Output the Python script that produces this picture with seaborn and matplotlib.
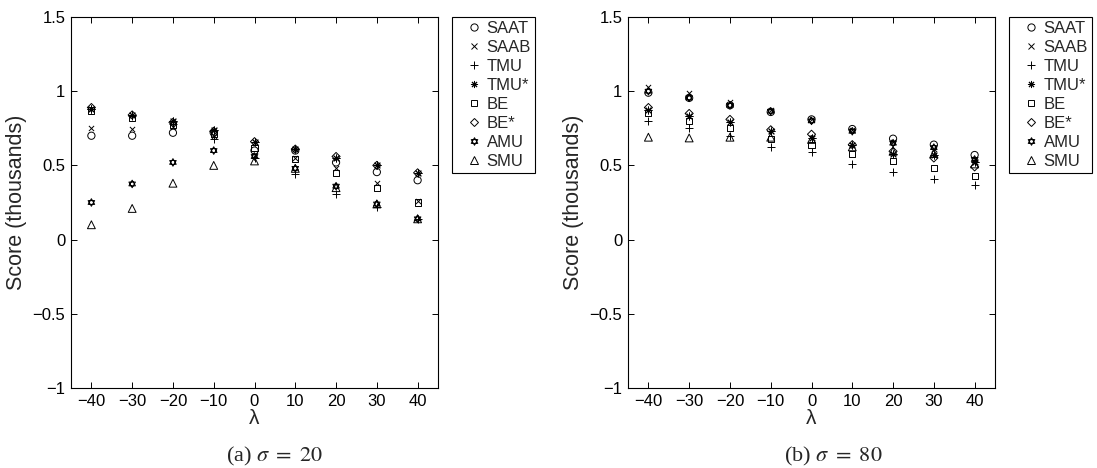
import numpy as np
import pandas as pd
import matplotlib
matplotlib.use("Agg")
import matplotlib.pyplot as plt
import seaborn as sns
from matplotlib.path import Path
from matplotlib.lines import Line2D

# ---------------- data ----------------
lambdas = [-40, -30, -20, -10, 0, 10, 20, 30, 40]
methods = ["SAAT", "SAAB", "TMU", "TMU*", "BE", "BE*", "AMU", "SMU"]

# panel (a) sigma = 20
saat_20 = [0.70, 0.70, 0.72, 0.72, 0.60, 0.60, 0.52, 0.455, 0.40]
saab_20 = [0.75, 0.745, 0.76, 0.70, 0.57, 0.55, 0.48, 0.38, 0.26]
tmu_20 = [0.88, 0.83, 0.78, 0.68, 0.55, 0.44, 0.31, 0.22, 0.14]
tmus_20 = [0.88, 0.84, 0.80, 0.74, 0.66, 0.61, 0.55, 0.50, 0.45]
be_20 = [0.87, 0.82, 0.77, 0.71, 0.62, 0.545, 0.45, 0.35, 0.25]
bes_20 = [0.89, 0.84, 0.79, 0.73, 0.66, 0.61, 0.56, 0.50, 0.45]
amu_20 = [0.25, 0.375, 0.52, 0.60, 0.56, 0.48, 0.36, 0.24, 0.14]
smu_20 = [0.10, 0.21, 0.38, 0.50, 0.53, 0.48, 0.35, 0.24, 0.14]

# panel (b) sigma = 80
saat_80 = [0.99, 0.955, 0.905, 0.86, 0.81, 0.745, 0.68, 0.64, 0.57]
saab_80 = [1.03, 0.99, 0.93, 0.87, 0.81, 0.74, 0.66, 0.61, 0.54]
tmu_80 = [0.80, 0.75, 0.70, 0.625, 0.59, 0.51, 0.455, 0.41, 0.37]
tmus_80 = [0.87, 0.83, 0.79, 0.73, 0.685, 0.64, 0.58, 0.57, 0.52]
be_80 = [0.85, 0.80, 0.755, 0.675, 0.64, 0.58, 0.53, 0.48, 0.43]
bes_80 = [0.89, 0.85, 0.81, 0.74, 0.71, 0.64, 0.595, 0.55, 0.49]
amu_80 = [1.00, 0.955, 0.905, 0.865, 0.80, 0.73, 0.65, 0.62, 0.54]
smu_80 = [0.69, 0.685, 0.69, 0.69, 0.675, 0.625, 0.595, 0.58, 0.51]

xticks = [-40, -30, -20, -10, 0, 10, 20, 30, 40]
xtick_labels = ["\u221240", "\u221230", "\u221220", "\u221210", "0", "10", "20", "30", "40"]
yticks = [-1, -0.5, 0, 0.5, 1, 1.5]
ytick_labels = ["\u22121", "\u22120.5", "0", "0.5", "1", "1.5"]
captions = ["(a) $\\sigma\\ =\\ 20$", "(b) $\\sigma\\ =\\ 80$"]

series = {
    "a": [saat_20, saab_20, tmu_20, tmus_20, be_20, bes_20, amu_20, smu_20],
    "b": [saat_80, saab_80, tmu_80, tmus_80, be_80, bes_80, amu_80, smu_80],
}
rows = []
for panel, vals in series.items():
    for m, v in zip(methods, vals):
        for lam, s in zip(lambdas, v):
            rows.append({"panel": panel, "method": m, "lambda": lam, "score": s})
df = pd.DataFrame(rows)

# ---------------- style ----------------
sns.set_style("ticks")
plt.rcParams["font.family"] = ["Liberation Sans", "DejaVu Sans"]
plt.rcParams["mathtext.fontset"] = "stix"
plt.rcParams["xtick.direction"] = "in"
plt.rcParams["ytick.direction"] = "in"

# hexagram marker (two overlapping triangles)
ang_up = np.deg2rad([90, 210, 330])
ang_dn = np.deg2rad([270, 30, 150])
verts = ([(np.cos(a), np.sin(a)) for a in ang_up] + [(0, 0)] +
         [(np.cos(a), np.sin(a)) for a in ang_dn] + [(0, 0)])
codes = [Path.MOVETO, Path.LINETO, Path.LINETO, Path.CLOSEPOLY] * 2
hexagram = Path(verts, codes)

marker_spec = {
    "SAAT": dict(marker="o", s=27, open=True),
    "SAAB": dict(marker="x", s=14, open=False),
    "TMU": dict(marker="+", s=30, open=False),
    "TMU*": dict(marker=(8, 2, 0), s=26, open=False),
    "BE": dict(marker="s", s=19, open=True),
    "BE*": dict(marker="D", s=17, open=True),
    "AMU": dict(marker=hexagram, s=30, open=True),
    "SMU": dict(marker="^", s=32, open=True),
}

fig = plt.figure(figsize=(10.97, 4.68), dpi=100)
axes = [fig.add_axes([71 / 1097, 1 - 388 / 468, 367 / 1097, 371 / 468]),
        fig.add_axes([628 / 1097, 1 - 388 / 468, 367 / 1097, 371 / 468])]

for ax, panel in zip(axes, ["a", "b"]):
    sub = df[df.panel == panel]
    for m in methods:
        spec = marker_spec[m]
        d = sub[sub.method == m]
        if spec["open"]:
            sns.scatterplot(data=d, x="lambda", y="score", marker=spec["marker"],
                            s=spec["s"], color="black", facecolor="none",
                            edgecolor="black", linewidth=0.7, ax=ax, legend=False)
        else:
            sns.scatterplot(data=d, x="lambda", y="score", marker=spec["marker"],
                            s=spec["s"], color="black", linewidth=0.7, ax=ax,
                            legend=False)
    ax.set_xlim(-45, 45)
    ax.set_ylim(-1, 1.5)
    ax.set_xticks(xticks)
    ax.set_xticklabels(xtick_labels)
    ax.set_yticks(yticks)
    ax.set_yticklabels(ytick_labels)
    ax.tick_params(axis="both", which="both", direction="in", length=4, width=0.7,
                   top=True, right=True, labelsize=12, colors="black", pad=4)
    for sp in ax.spines.values():
        sp.set_visible(True)
        sp.set_linewidth(0.8)
        sp.set_color("black")
    ax.set_xlabel("\u03bb", fontsize=15, labelpad=0)
    ax.set_ylabel("Score (thousands)", fontsize=15.5, labelpad=4)

    handles = []
    for m in methods:
        spec = marker_spec[m]
        ms = np.sqrt(spec["s"])
        if spec["open"]:
            h = Line2D([], [], linestyle="none", marker=spec["marker"], markersize=ms,
                       markerfacecolor="none", markeredgecolor="black",
                       markeredgewidth=0.7)
        else:
            h = Line2D([], [], linestyle="none", marker=spec["marker"], markersize=ms,
                       color="black", markeredgewidth=0.7)
        handles.append(h)
    leg = ax.legend(handles, methods, loc="upper left", bbox_to_anchor=(1.038, 1.0),
                    borderaxespad=0, frameon=True, fancybox=False, framealpha=1,
                    edgecolor="black", fontsize=12, handlelength=2.13,
                    handletextpad=-0.29, labelspacing=0.24, borderpad=0.25)
    leg.get_frame().set_linewidth(0.8)

for cap, xc in zip(captions, [275 / 1097, 833 / 1097]):
    fig.text(xc, 7 / 468, cap, ha="center", va="baseline", fontsize=16,
             family=["Liberation Serif", "DejaVu Serif"])

fig.savefig("out.png", dpi=100)
